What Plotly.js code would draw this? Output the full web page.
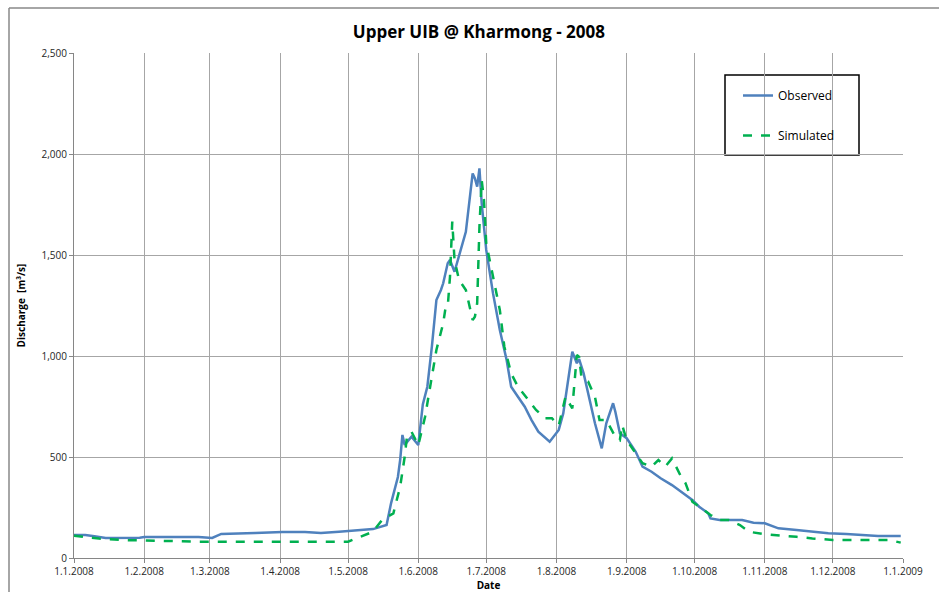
<!DOCTYPE html>
<html>
<head>
<meta charset="utf-8">
<script src="https://cdn.plot.ly/plotly-3.0.1.min.js"></script>
<style>html,body{margin:0;padding:0;background:#fff;}#chart{width:939px;height:592px;}</style>
</head>
<body>
<div id="chart"></div>
<script>
// ---- data ----
const obsDates = ['2008-01-01','2008-01-06','2008-01-10','2008-01-15','2008-01-30','2008-02-01','2008-02-13','2008-02-25','2008-03-02','2008-03-06','2008-03-21','2008-04-02','2008-04-12','2008-04-19','2008-04-27','2008-05-09','2008-05-12','2008-05-18','2008-05-20','2008-05-23','2008-05-24','2008-05-25','2008-05-26','2008-05-29','2008-06-01','2008-06-03','2008-06-05','2008-06-07','2008-06-09','2008-06-11','2008-06-12','2008-06-14','2008-06-15','2008-06-17','2008-06-20','2008-06-22','2008-06-25','2008-06-26','2008-06-27','2008-06-28','2008-06-29','2008-07-01','2008-07-04','2008-07-07','2008-07-10','2008-07-12','2008-07-15','2008-07-18','2008-07-21','2008-07-24','2008-07-29','2008-08-01','2008-08-02','2008-08-04','2008-08-06','2008-08-08','2008-08-10','2008-08-11','2008-08-13','2008-08-15','2008-08-18','2008-08-21','2008-08-23','2008-08-26','2008-08-27','2008-08-29','2008-09-01','2008-09-05','2008-09-08','2008-09-12','2008-09-16','2008-09-21','2008-09-25','2008-09-30','2008-10-03','2008-10-07','2008-10-08','2008-10-12','2008-10-22','2008-10-27','2008-11-01','2008-11-07','2008-11-15','2008-11-22','2008-11-29','2008-12-07','2008-12-14','2008-12-21','2008-12-31'];
const observed = [114,114,108,99,100,104,104,104,99,119,124,129,129,124,130,143,143,163,272,401,485,609,560,600,559,760,848,1046,1277,1327,1360,1459,1475,1417,1541,1615,1904,1879,1838,1929,1756,1525,1310,1129,980,848,798,749,683,625,576,617,634,716,881,1021,964,985,914,815,667,543,667,766,724,617,593,526,452,427,395,361,328,287,254,221,196,188,188,175,172,147,139,130,122,119,114,109,109];

const simDates = ['2008-01-01','2008-01-12','2008-01-22','2008-02-13','2008-02-25','2008-05-01','2008-05-06','2008-05-12','2008-05-16','2008-05-21','2008-05-24','2008-05-26','2008-05-27','2008-05-29','2008-06-01','2008-06-04','2008-06-06','2008-06-09','2008-06-12','2008-06-13','2008-06-14','2008-06-15','2008-06-16','2008-06-17','2008-06-19','2008-06-22','2008-06-25','2008-06-26','2008-06-27','2008-06-28','2008-06-29','2008-06-30','2008-07-01','2008-07-04','2008-07-07','2008-07-09','2008-07-12','2008-07-15','2008-07-20','2008-07-23','2008-07-27','2008-07-30','2008-08-02','2008-08-05','2008-08-08','2008-08-10','2008-08-11','2008-08-12','2008-08-15','2008-08-18','2008-08-20','2008-08-23','2008-08-27','2008-08-29','2008-08-30','2008-09-01','2008-09-04','2008-09-08','2008-09-12','2008-09-15','2008-09-18','2008-09-21','2008-09-25','2008-09-27','2008-09-30','2008-10-04','2008-10-08','2008-10-12','2008-10-16','2008-10-21','2008-10-25','2008-10-31','2008-11-07','2008-11-15','2008-11-22','2008-12-01','2008-12-14','2008-12-26','2008-12-31'];
const simulated = [110,96,89,84,81,81,105,130,188,221,353,501,600,625,559,699,832,1030,1162,1236,1244,1392,1665,1475,1376,1327,1178,1194,1261,1640,1871,1772,1558,1392,1228,1046,914,848,774,733,692,692,655,798,741,1005,996,897,873,798,683,683,600,584,658,584,535,469,452,485,452,493,403,370,279,246,213,188,188,163,130,119,114,105,97,89,89,89,76];

const tickDates = ['2008-01-01','2008-02-01','2008-03-01','2008-04-01','2008-05-01','2008-06-01','2008-07-01','2008-08-01','2008-09-01','2008-10-01','2008-11-01','2008-12-01','2009-01-01'];
const tickLabels = ['1.1.2008','1.2.2008','1.3.2008','1.4.2008','1.5.2008','1.6.2008','1.7.2008','1.8.2008','1.9.2008','1.10.2008','1.11.2008','1.12.2008','1.1.2009'];
const seriesNames = ['Observed','Simulated'];

const FONT = 'Open Sans, Liberation Sans, sans-serif';

const traces = [
  {x: obsDates, y: observed, name: seriesNames[0], type: 'scatter', mode: 'lines',
   line: {color: '#4f81bd', width: 2.5}, legendgroup: 'a'},
  {x: simDates, y: simulated, name: seriesNames[1], type: 'scatter', mode: 'lines',
   line: {color: '#00b050', width: 2.5, dash: 'dash'}, legendgroup: 'b'}
];

const layout = {
  width: 939, height: 592,
  margin: {l: 74, r: 36, t: 53, b: 34},
  paper_bgcolor: '#ffffff', plot_bgcolor: '#ffffff',
  font: {family: FONT, size: 10, color: '#262626'},
  title: {text: '<b>Upper UIB @ Kharmong - 2008</b>', font: {family: FONT, size: 17, color: '#000'},
          x: 0.51, xanchor: 'center', y: 1 - 32/592, yanchor: 'middle'},
  xaxis: {type: 'date', range: ['2008-01-01', '2009-01-01'], tickvals: tickDates, ticktext: tickLabels,
          showgrid: true, gridcolor: '#a6a6a6', gridwidth: 1, showline: true, linecolor: '#868686', linewidth: 1,
          ticks: 'outside', ticklen: 4, tickcolor: '#868686', zeroline: false,
          tickfont: {size: 10, color: '#262626'},
          title: {text: '<b>Date</b>', font: {size: 10, color: '#000'}, standoff: 0}},
  yaxis: {range: [0, 2500], dtick: 500, tickformat: ',d', showgrid: true, gridcolor: '#a6a6a6', gridwidth: 1,
          showline: true, linecolor: '#868686', linewidth: 1, ticks: 'outside', ticklen: 4, tickcolor: '#868686',
          zeroline: false, tickfont: {size: 10, color: '#262626'},
          title: {text: '<b>Discharge  [m³/s]</b>', font: {size: 10, color: '#000'}, standoff: 14}},
  showlegend: true,
  legend: {x: (738-74)/829, y: (558-81)/505, xanchor: 'left', yanchor: 'top', bgcolor: 'rgba(0,0,0,0)',
           borderwidth: 0, font: {size: 12, color: '#000'}, tracegroupgap: 21},
  shapes: [
    {type: 'rect', xref: 'paper', yref: 'paper', x0: (725-74)/829, x1: (859-74)/829, y0: (558-155)/505, y1: (558-75)/505,
     line: {color: '#000', width: 1.5}, fillcolor: '#ffffff', layer: 'below'},
    {type: 'line', xref: 'paper', yref: 'paper', x0: (9-74)/829, x1: (9-74)/829, y0: -0.2, y1: (558-8)/505,
     line: {color: '#888', width: 1.5}},
    {type: 'line', xref: 'paper', yref: 'paper', x0: (9-74)/829, x1: 1.2, y0: (558-8)/505, y1: (558-8)/505,
     line: {color: '#888', width: 1.5}}
  ]
};

Plotly.newPlot('chart', traces, layout, {displayModeBar: false, staticPlot: true});
</script>
</body>
</html>
